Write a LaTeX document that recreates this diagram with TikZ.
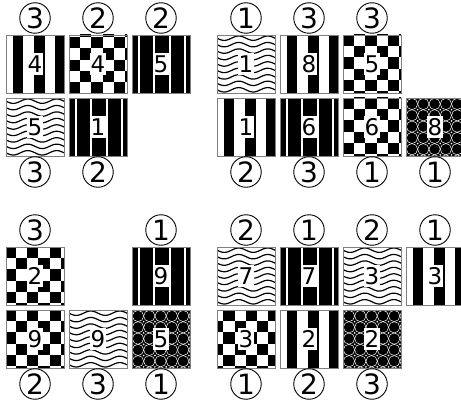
\documentclass[tikz,border=0pt]{standalone}
\usepackage{fontspec}
\setmainfont{DejaVu Sans}
\tikzset{
  tileborder/.style={draw=gray, line width=0.8pt},
  lbl/.style={fill=white, inner xsep=0.4pt, inner ysep=2.2pt, font=\fontsize{23}{23}\selectfont},
  circ/.style={circle, draw=black, line width=0.9pt, minimum size=30.5pt, inner sep=0pt, font=\fontsize{28}{28}\selectfont},
}
\def\phx{0}\def\phy{2.3}
\newcommand{\patwide}{%
  \fill[white] (0,0) rectangle (58,58);
  \foreach \s in {7,28.2,49.4} \fill[black] (\s,0) rectangle ({min(\s+10.4,58)},58);}
\newcommand{\patthin}{%
  \fill[black] (0,0) rectangle (58,58);
  \foreach \s in {7,22.3,37.6,52.9} \draw[white, line width=1.8pt] (\s,0) -- (\s,58);}
\newcommand{\patwavy}{%
  \fill[white] (0,0) rectangle (58,58);
  \foreach \j in {0,...,8}{
    \draw[black, line width=1.2pt] plot[domain=-1:59, samples=40, smooth] (\x,{3.2+6.45*\j+2.2*sin(12.4138*\x)});}}
\newcommand{\patchecker}{%
  \fill[white] (0,0) rectangle (58,58);
  \foreach \i in {-1,...,5}{\foreach \j in {-1,...,5}{%
    \pgfmathtruncatemacro\cpar{mod(\i+\j+2,2)}%
    \ifnum\cpar=0 \fill[black] ({\phx+11.2*\i},{\phy+11.2*\j}) rectangle ++(11.2,11.2);\fi}}}
\newcommand{\patdots}{%
  \fill[black] (0,0) rectangle (58,58);
  \foreach \i in {-1,...,5}{\foreach \j in {-1,...,5}{%
    \draw[white, line width=0.5pt] ({6+11.3*\i},{6+11.3*\j}) circle (5.65);
    \fill[white] ({11.65+11.3*\i},{11.65+11.3*\j}) circle (0.9);}}}
\newcommand{\Tile}[5]{%
  \begin{scope}[shift={(#2,#3)}]
    \begin{scope}\clip (0,0) rectangle (58,58); \csname pat#1\endcsname \end{scope}
    \draw[tileborder] (0,0) rectangle (58,58);
    \node[lbl] (#5) at (29,29) {#4};
  \end{scope}}
\begin{document}
\begin{tikzpicture}[x=1pt, y=-1pt]
\useasboundingbox (0,0) rectangle (461,404);
\fill[white] (0,0) rectangle (461,404);
% Panel A
\Tile{wide}{6}{35}{4}{a11}
\Tile{checker}{69}{35}{4}{a12}
\Tile{thin}{132}{35}{5}{a13}
\Tile{wavy}{6}{98}{5}{a21}
\Tile{thin}{69}{98}{1}{a22}
\node[circ] (ca1) at (35,18) {3};
\node[circ] (ca2) at (98,18) {2};
\node[circ] (ca3) at (161,18) {2};
\node[circ] (cb1) at (35,172) {3};
\node[circ] (cb2) at (98,172) {2};
% Panel B
\Tile{wavy}{217}{35}{1}{b11}
\Tile{wide}{280}{35}{8}{b12}
\def\phy{0}
\Tile{checker}{343}{35}{5}{b13}
\Tile{wide}{217}{98}{1}{b21}
\Tile{thin}{280}{98}{6}{b22}
\Tile{checker}{343}{98}{6}{b23}
\Tile{dots}{406}{98}{8}{b24}
\node[circ] (cc1) at (246,18) {1};
\node[circ] (cc2) at (309,18) {3};
\node[circ] (cc3) at (372,18) {3};
\node[circ] (cd1) at (246,172) {2};
\node[circ] (cd2) at (309,172) {3};
\node[circ] (cd3) at (372,172) {1};
\node[circ] (cd4) at (435,172) {1};
% Panel C
\def\phx{-1.2}\def\phy{0}
\Tile{checker}{6}{247}{2}{c11}
\Tile{thin}{132}{247}{9}{c13}
\Tile{checker}{6}{310}{9}{c21}
\Tile{wavy}{69}{310}{9}{c22}
\Tile{dots}{132}{310}{5}{c23}
\node[circ] (ce1) at (35,230) {3};
\node[circ] (ce3) at (161,230) {1};
\node[circ] (cf1) at (35,384) {2};
\node[circ] (cf2) at (98,384) {3};
\node[circ] (cf3) at (161,384) {1};
% Panel D
\Tile{wavy}{217}{247}{7}{d11}
\Tile{thin}{280}{247}{7}{d12}
\Tile{wavy}{343}{247}{3}{d13}
\Tile{wide}{406}{247}{3}{d14}
\def\phx{6.3}\def\phy{0}
\Tile{checker}{217}{310}{3}{d21}
\Tile{wide}{280}{310}{2}{d22}
\Tile{dots}{343}{310}{2}{d23}
\node[circ] (cg1) at (246,230) {2};
\node[circ] (cg2) at (309,230) {1};
\node[circ] (cg3) at (372,230) {2};
\node[circ] (cg4) at (435,230) {1};
\node[circ] (ch1) at (246,384) {1};
\node[circ] (ch2) at (309,384) {2};
\node[circ] (ch3) at (372,384) {3};
\end{tikzpicture}
\end{document}
